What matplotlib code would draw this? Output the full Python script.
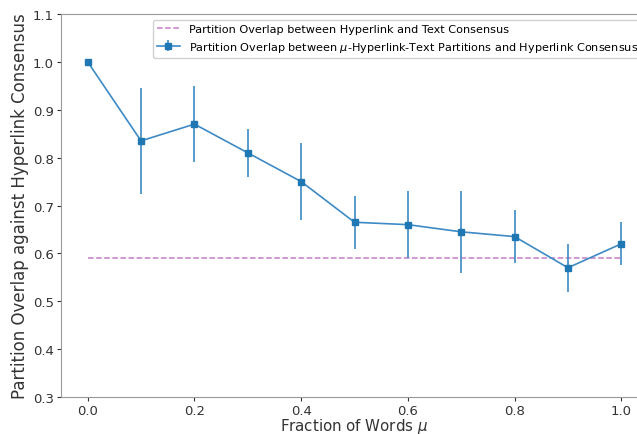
import numpy as np
import matplotlib
matplotlib.use("Agg")
import matplotlib.pyplot as plt

mu = [0.0, 0.1, 0.2, 0.3, 0.4, 0.5, 0.6, 0.7, 0.8, 0.9, 1.0]
overlap = [1.0, 0.835, 0.87, 0.81, 0.75, 0.665, 0.66, 0.645, 0.635, 0.57, 0.62]
overlap_err = [0.0, 0.11, 0.08, 0.05, 0.08, 0.055, 0.07, 0.085, 0.055, 0.05, 0.045]
text_consensus = 0.59

fig = plt.figure(figsize=(6.37, 4.35), dpi=100)
ax = fig.add_axes([61 / 637, 1 - 398 / 435, 587 / 637, 383 / 435])

ax.plot([mu[0], mu[-1]], [text_consensus, text_consensus], '--', color='#c77cc7',
        lw=1.1, label='Partition Overlap between Hyperlink and Text Consensus')
ax.errorbar(mu, overlap, yerr=overlap_err, color='#3d8ac4', lw=1.2, marker='s', ms=4.5,
            mfc='#1f77b4', mec='#1f77b4',
            label=r'Partition Overlap between $\mu$-Hyperlink-Text Partitions and Hyperlink Consensus')

ax.set_xlim(-0.05, 1.05)
ax.set_ylim(0.3, 1.1)
ax.set_xticks([0.0, 0.2, 0.4, 0.6, 0.8, 1.0])
ax.tick_params(labelsize=9.5, colors='#333333', length=3, pad=2)
for s in ax.spines.values():
    s.set_color('#999999')
ax.set_xlabel(r'Fraction of Words $\mu$', fontsize=10.8, color='#333333', labelpad=-1)
ax.set_ylabel('Partition Overlap against Hyperlink Consensus', fontsize=12, color='#333333', labelpad=3)
ax.legend(loc='upper right', fontsize=8.1, framealpha=0.9, bbox_to_anchor=(1.0, 1.0))

fig.savefig('out.png', dpi=100)
